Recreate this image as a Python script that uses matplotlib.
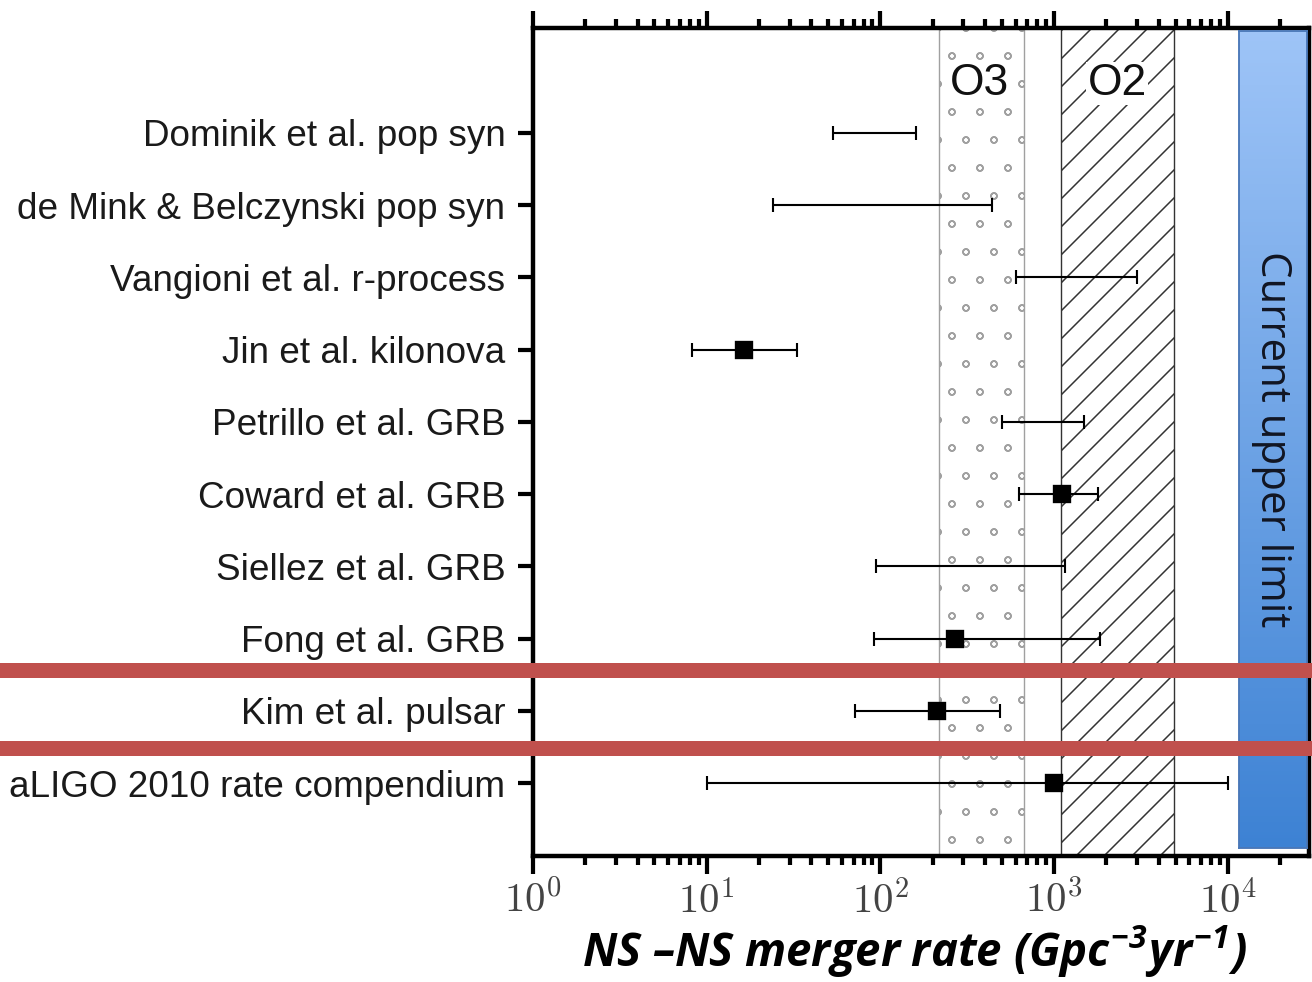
import numpy as np
import matplotlib
matplotlib.use("Agg")
import matplotlib.pyplot as plt
import matplotlib.hatch as mhatch
from matplotlib.patches import Rectangle
from matplotlib.ticker import FixedLocator, FuncFormatter

# rate estimates (Gpc^-3 yr^-1)
labels = ["Dominik et al. pop syn", "de Mink & Belczynski pop syn",
          "Vangioni et al. r-process", "Jin et al. kilonova",
          "Petrillo et al. GRB", "Coward et al. GRB", "Siellez et al. GRB",
          "Fong et al. GRB", "Kim et al. pulsar", "aLIGO 2010 rate compendium"]
rate_lo = [53, 24, 600, 8.2, 500, 630, 94, 92, 71, 10]
rate_hi = [160, 440, 3000, 33, 1480, 1790, 1150, 1830, 490, 10000]
rate_best = [None, None, None, 16.4, None, 1110, None, 268, 211, 1000]

o3_band = (217, 670)
o2_band = (1094, 4890)
run_names = ["O3", "O2"]
run_label_x = [374, 2300]
decades = [0, 1, 2, 3, 4]

DPI = 168
plt.rcParams["mathtext.fontset"] = "cm"
plt.rcParams["hatch.linewidth"] = 0.65
plt.rcParams["font.family"] = "Liberation Sans"
mhatch.SmallCircles.size = 0.11  # smaller rings for the O3 band

fig = plt.figure(figsize=(1312 / DPI, 982 / DPI), dpi=DPI)
ax = fig.add_axes([533 / 1312, 1 - 856 / 982, 776 / 1312, 828 / 982])

y = np.arange(len(labels))[::-1]
lo = np.array(rate_lo, float)
hi = np.array(rate_hi, float)
mid = np.sqrt(lo * hi)
ax.errorbar(mid, y, xerr=[mid - lo, hi - mid], fmt="none", ecolor="black",
            elinewidth=0.9, capsize=3.2, capthick=0.9, zorder=4)
bx = [b for b in rate_best if b is not None]
by = [yy for b, yy in zip(rate_best, y) if b is not None]
ax.plot(bx, by, "s", color="black", markersize=6.8, zorder=5)

# observing run bands
ax.axvspan(*o3_band, facecolor="white", edgecolor="#a0a0a0", hatch="o",
           linewidth=0.6, zorder=1)
ax.axvspan(*o2_band, facecolor="white", edgecolor="#333333", hatch="//",
           linewidth=0.6, zorder=1)
for name, lx in zip(run_names, run_label_x):
    ax.text(lx, 9.68, name, fontsize=19, color="#111111",
            ha="center", va="center", zorder=3,
            bbox=dict(facecolor="white", edgecolor="none", pad=0.3))

ax.set_xscale("log")
ax.set_xlim(1, 2.93e4)
ax.set_ylim(-1.01, 10.45)
ax.set_yticks(y)
ax.set_yticklabels(labels, fontsize=15.8, color="#1a1a1a")
ax.xaxis.set_major_locator(FixedLocator([10.0 ** d for d in decades]))
ax.xaxis.set_major_formatter(FuncFormatter(
    lambda v, p: r"$10^{%d}$" % int(round(np.log10(v)))))
ax.tick_params(axis="x", which="both", top=True, direction="out",
               width=1.8, labelsize=17.5, labelcolor="#444444", pad=3)
ax.tick_params(axis="x", which="major", length=7.5)
ax.tick_params(axis="x", which="minor", length=3.8)
ax.tick_params(axis="y", left=True, right=False, direction="out",
               length=6.3, width=1.8, pad=5.5)
for s in ax.spines.values():
    s.set_linewidth(1.9)

# "current upper limit" box with a vertical gradient
bax = fig.add_axes([1239 / 1312, 1 - 848 / 982, 68 / 1312, 817 / 982])
grad = np.linspace(0, 1, 256)[:, None]
top_c = np.array([0.62, 0.77, 0.97])
bot_c = np.array([0.24, 0.51, 0.83])
img = top_c * (1 - grad[..., None]) + bot_c * grad[..., None]
bax.imshow(img, aspect="auto", extent=[0, 1, 0, 1], origin="upper")
bax.set_xticks([])
bax.set_yticks([])
for s in bax.spines.values():
    s.set_color("#4a78b8")
    s.set_linewidth(0.8)
bax.text(0.48, 0.5, "Current upper limit", rotation=-90, ha="center",
         va="center", fontsize=18, family="Open Sans", color="#111522",
         transform=bax.transAxes)
fig.add_artist(Rectangle((1230 / 1312, 1 - 852 / 982), 10 / 1312, 820 / 982,
                         transform=fig.transFigure, facecolor="#d8d8d8",
                         edgecolor="none", alpha=0.6, zorder=0))

# red highlight bars across the figure
for yc in [670, 748]:
    fig.add_artist(Rectangle((0, 1 - (yc + 7.5) / 982), 1, 15 / 982,
                             transform=fig.transFigure, facecolor="#c0504d",
                             edgecolor="none", zorder=10))

fig.text(915 / 1312, 15 / 982,
         r"NS –NS merger rate (Gpc$^{\mathdefault{-3}}$yr$^{\mathdefault{-1}}$)",
         ha="center", va="baseline", fontsize=19.5, family="Open Sans",
         fontweight="bold", fontstyle="italic")

fig.savefig("out.png", dpi=DPI)
